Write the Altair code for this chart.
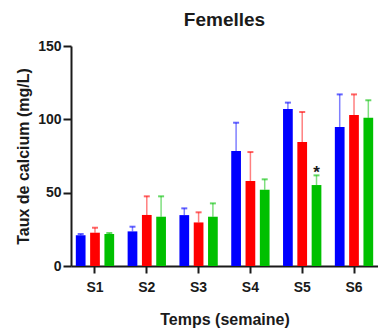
import altair as alt
import pandas as pd

weeks = ["S1", "S2", "S3", "S4", "S5", "S6"]
series = ["Groupe 1", "Groupe 2", "Groupe 3"]
colors = ["#0000FF", "#FF0000", "#00C000"]

blue = [20.9, 23.6, 34.7, 78.4, 107.0, 94.8]
red = [22.7, 34.8, 29.7, 58.0, 84.5, 103.0]
green = [21.8, 33.6, 33.6, 52.0, 55.2, 101.0]

blue_sd = [0.9, 3.2, 4.6, 19.3, 4.4, 22.2]
red_sd = [3.4, 12.7, 6.9, 19.7, 20.5, 14.0]
green_sd = [0.7, 13.9, 9.1, 7.1, 6.6, 12.0]

star_week = ["S5"]
star_series = ["Groupe 3"]
star_y = [67.0]

rows = []
for s, vals, sds in zip(series, [blue, red, green], [blue_sd, red_sd, green_sd]):
    for w, v, sd in zip(weeks, vals, sds):
        rows.append({"week": w, "series": s, "value": v, "top": v + sd})
df = pd.DataFrame(rows)
stars = pd.DataFrame({"week": star_week, "series": star_series, "y": star_y})

FONT = "Liberation Sans"
INK = "#1a1a1a"

x = alt.X("week:N", sort=weeks,
          scale=alt.Scale(paddingInner=0.26, paddingOuter=0.093),
          axis=alt.Axis(title="Temps (semaine)", labelAngle=0, labelFontSize=14,
                        labelFont=FONT, labelFontWeight="bold", labelColor=INK,
                        titleFont=FONT, titleFontSize=16, titleFontWeight="bold",
                        titleColor=INK, titlePadding=17, tickSize=7, tickWidth=2,
                        domainWidth=2, domainColor=INK, tickColor=INK,
                        labelPadding=7))
xo = alt.XOffset("series:N", sort=series, scale=alt.Scale(paddingInner=0.32))
y_scale = alt.Scale(domain=[0, 150], nice=False)
y = alt.Y("value:Q", scale=y_scale,
          axis=alt.Axis(title="Taux de calcium (mg/L)", values=[0, 50, 100, 150],
                        grid=False, labelFontSize=14, labelFont=FONT,
                        labelFontWeight="bold", labelColor=INK,
                        titleFont=FONT, titleFontSize=16, titleFontWeight="bold",
                        titleColor=INK, titlePadding=6, tickSize=8, tickWidth=2,
                        domainWidth=2, domainColor=INK, tickColor=INK,
                        labelPadding=2))
color = alt.Color("series:N", sort=series, scale=alt.Scale(domain=series, range=colors), legend=None)

base = alt.Chart(df)
err = base.mark_rule(strokeWidth=1.5).encode(
    x=x, xOffset=xo, y=alt.Y("value:Q", scale=y_scale), y2="top:Q", color=color, opacity=alt.value(0.5))
cap = base.mark_tick(thickness=2, size=6).encode(
    x=x, xOffset=xo, y=alt.Y("top:Q", scale=y_scale), color=color, opacity=alt.value(0.6))
bars = base.mark_bar().encode(x=x, xOffset=xo, y=y, color=color)
star = alt.Chart(stars).mark_text(text="*", fontSize=17, fontWeight="bold", font=FONT, color=INK, dy=5).encode(
    x=x, xOffset=alt.XOffset("series:N", sort=series, scale=alt.Scale(domain=series, paddingInner=0.32)),
    y=alt.Y("y:Q", scale=y_scale))

chart = alt.layer(err, cap, bars, star).properties(
    width=307, height=220,
    title=alt.TitleParams("Femelles", font=FONT, fontSize=19, fontWeight="bold", color=INK,
                          anchor="middle", offset=9),
    autosize=alt.AutoSizeParams(type="none"),
    padding={"left": 71, "top": 46, "right": 0, "bottom": 63},
).configure_view(stroke=None)

chart.save("out.html", embed_options={"renderer": "svg", "actions": False})
